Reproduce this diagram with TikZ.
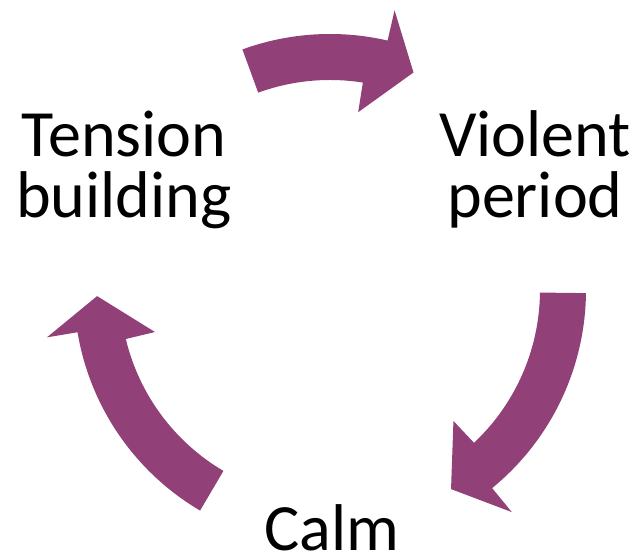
\documentclass[tikz,border=0pt]{standalone}
\usepackage{fontspec}
\setmainfont{Carlito}
\usepackage{tikz}
\usetikzlibrary{calc}

\definecolor{cyclepurple}{RGB}{146,64,120}

% block arrow on the cycle circle: #1 tail angle, #2 angle where the head starts
\newcommand{\cyclearrow}[2]{%
  \fill[arr] ($(ctr)+(#1:256)$) arc[start angle=#1, end angle=#2-2, radius=256]
    -- ($(ctr)+(#2-2:287)$) -- ($(ctr)+(#2-10:233)$) -- ($(ctr)+(#2+2:180)$)
    -- ($(ctr)+(#2+2:210)$) arc[start angle=#2+2, end angle=#1, radius=210] -- cycle;}

\begin{document}
\begin{tikzpicture}[x=0.025cm, y=0.025cm,
    lbl/.style={align=center, inner sep=0pt, font=\fontsize{47}{44}\selectfont},
    arr/.style={fill=cyclepurple}]
\useasboundingbox (0,0) rectangle (643,557);
\coordinate (ctr) at (330,267);
% stages (base = last line)
\node[lbl, anchor=base] (tension) at (124,339) {Tension\\building};
\node[lbl, anchor=base] (violent) at (535,339) {Violent\\period};
\node[lbl, anchor=base] (calm) at (332,6) {Calm};
% arrows, clockwise
\cyclearrow{110}{79}
\cyclearrow{-0.7}{-48.7}
\cyclearrow{-120.5}{-168.5}
\end{tikzpicture}
\end{document}
